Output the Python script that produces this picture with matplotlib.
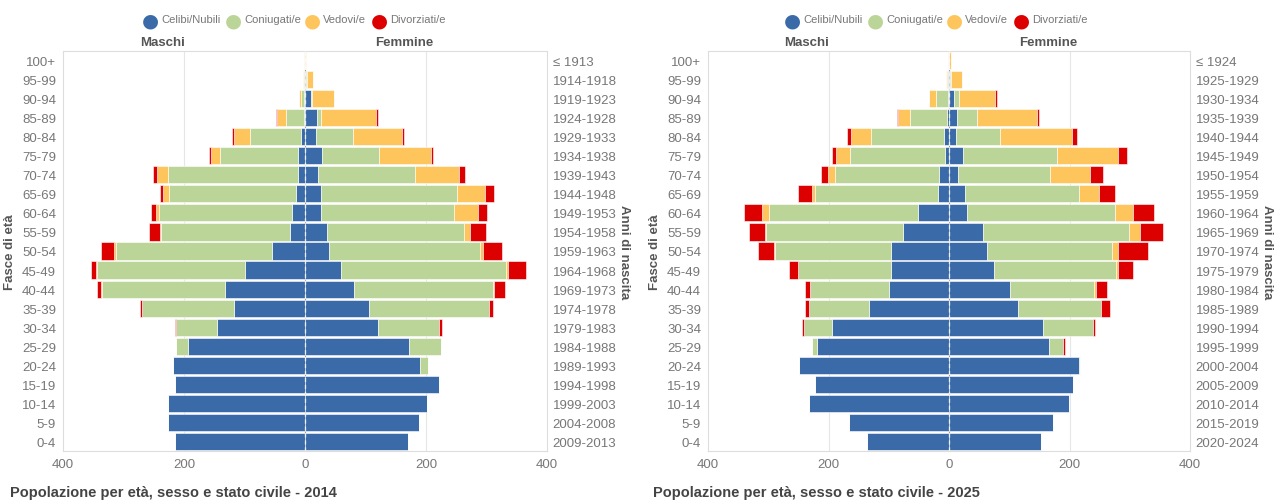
import numpy as np
import matplotlib.pyplot as plt

ages = ['100+', '95-99', '90-94', '85-89', '80-84', '75-79', '70-74', '65-69',
        '60-64', '55-59', '50-54', '45-49', '40-44', '35-39', '30-34', '25-29',
        '20-24', '15-19', '10-14', '5-9', '0-4']

years_2014 = ['≤ 1913', '1914-1918', '1919-1923', '1924-1928', '1929-1933',
              '1934-1938', '1939-1943', '1944-1948', '1949-1953', '1954-1958',
              '1959-1963', '1964-1968', '1969-1973', '1974-1978', '1979-1983',
              '1984-1988', '1989-1993', '1994-1998', '1999-2003', '2004-2008',
              '2009-2013']
years_2025 = ['≤ 1924', '1925-1929', '1930-1934', '1935-1939', '1940-1944',
              '1945-1949', '1950-1954', '1955-1959', '1960-1964', '1965-1969',
              '1970-1974', '1975-1979', '1980-1984', '1985-1989', '1990-1994',
              '1995-1999', '2000-2004', '2005-2009', '2010-2014', '2015-2019',
              '2020-2024']

# 2014 - maschi
m14_cel = [0, 0.5, 2, 2, 7, 12, 11, 15, 21, 24, 55, 99, 132, 117, 145, 194, 218, 215, 227, 226, 215]
m14_con = [0, 1, 4, 30, 84, 129, 215, 210, 220, 214, 257, 245, 203, 152, 69, 19, 1, 0, 0, 0, 0]
m14_ved = [0, 1, 4, 15, 27, 14, 18, 9, 5, 1, 4, 2, 2, 0.5, 0, 0, 0, 0, 0, 0, 0]
m14_div = [0, 0, 0, 1.5, 2, 4, 8, 5.5, 9, 19, 22, 7, 6, 4, 1, 0.5, 0, 0, 0, 0, 0]
# 2014 - femmine
f14_cel = [0, 2, 10, 20, 19, 28, 22, 26, 26, 37, 39, 59, 81, 106, 120, 172, 190, 221, 201, 189, 171]
f14_con = [0, 1, 1, 7, 61, 95, 160, 225, 220, 226, 251, 274, 230, 198, 102, 53, 13, 0, 0, 0, 0]
f14_ved = [1, 10, 37, 91, 81, 85, 73, 47, 40, 10, 4, 3, 1, 0, 0, 0, 0, 0, 0, 0, 0]
f14_div = [0, 0, 0, 2, 3, 4, 10, 14, 15, 26, 31, 29, 18, 7, 4, 0, 0, 0, 0, 0, 0]

# 2025 - maschi
m25_cel = [0, 1, 1, 4, 8, 7, 16, 19, 51, 76, 96, 97, 99, 133, 195, 219, 249, 222, 233, 166, 136]
m25_con = [0, 2, 21, 60, 122, 158, 174, 203, 248, 228, 192, 153, 132, 100, 45, 8, 0, 0, 0, 0, 0]
m25_ved = [0, 2, 12, 21, 33, 23, 11, 5, 11, 2, 3, 1, 0, 0, 0, 1, 0, 0, 0, 0, 0]
m25_div = [0, 0, 0, 2, 6, 5.5, 11.5, 23, 30, 26, 26, 14, 8, 5.5, 4, 0, 0, 0, 0, 0, 0]
# 2025 - femmine
f25_cel = [0.5, 2, 9, 13, 11, 24, 15, 26, 30, 56, 63, 74, 101, 115, 156, 166, 215, 205, 199, 173, 152]
f25_con = [0, 2, 7, 33, 74, 156, 153, 189, 245, 242, 208, 203, 140, 137, 83, 24, 3, 0, 0, 0, 0]
f25_ved = [2.5, 18, 60, 100, 119, 100, 66, 34, 31, 19, 10, 3, 3, 0, 0, 0, 0, 0, 0, 0, 0]
f25_div = [0, 0, 3, 4, 8, 16, 22, 27, 35, 38, 49, 26, 17.5, 15, 4, 3, 0, 0, 0, 0, 0]

labels = ['Celibi/Nubili', 'Coniugati/e', 'Vedovi/e', 'Divorziati/e']
colors = ['#3a6aa8', '#bad597', '#fdc55b', '#dd0000']
text_grey = '#777777'

plt.rcParams['font.family'] = ['Liberation Sans', 'DejaVu Sans']

fig = plt.figure(figsize=(12.77, 5.02), dpi=100)


def draw_pyramid(ax, males, females, years, title, x0):
    y = np.arange(len(ages))
    left = np.zeros(len(ages))
    for vals, c in zip(males, colors):
        vals = np.array(vals, dtype=float)
        ax.barh(y, -vals, left=-left, height=0.9, color=c, edgecolor='white',
                linewidth=0.4, zorder=2)
        left += vals
    left = np.zeros(len(ages))
    for vals, c in zip(females, colors):
        vals = np.array(vals, dtype=float)
        ax.barh(y, vals, left=left, height=0.9, color=c, edgecolor='white',
                linewidth=0.4, zorder=2)
        left += vals

    ax.set_xlim(-400, 400)
    ax.set_ylim(len(ages) - 0.5, -0.5)
    ax.set_xticks([-400, -200, 0, 200, 400])
    ax.set_xticklabels(['400', '200', '0', '200', '400'])
    ax.set_yticks(y)
    ax.set_yticklabels(ages)
    for v in (-200, 200):
        ax.axvline(v, color='#e6e6e6', lw=0.8, zorder=1)
    ax.axvline(0, color='#999999', lw=0.8, zorder=1)
    ax.axvline(0, color='white', lw=1.0, ls=(0, (3, 2)), alpha=0.7, zorder=3)
    ax.tick_params(axis='both', length=0, labelsize=9.5, labelcolor=text_grey, pad=5)
    for s in ax.spines.values():
        s.set_color('#dddddd')
        s.set_linewidth(0.8)

    ax.set_ylabel('Fasce di età', fontsize=9.5, fontweight='bold', color='#555555', labelpad=4)

    ax2 = ax.twinx()
    ax2.set_ylim(ax.get_ylim())
    ax2.set_yticks(y)
    ax2.set_yticklabels(years)
    ax2.tick_params(axis='y', length=0, labelsize=9.5, labelcolor=text_grey, pad=4)
    for s in ax2.spines.values():
        s.set_visible(False)
    ax2.set_ylabel('Anni di nascita', fontsize=9.5, fontweight='bold', color='#555555',
                   rotation=270, labelpad=10)

    ax.text(0.205, 1.008, 'Maschi', transform=ax.transAxes, ha='center', va='bottom',
            fontsize=9.5, fontweight='bold', color='#555555')
    ax.text(0.705, 1.008, 'Femmine', transform=ax.transAxes, ha='center', va='bottom',
            fontsize=9.5, fontweight='bold', color='#555555')

    fig.text(x0, 0.003, title, ha='left', va='bottom', fontsize=10.5,
             fontweight='bold', color='#444444')

    # legenda
    lx = [x0 + 0.1095, x0 + 0.1745, x0 + 0.2363, x0 + 0.2888]
    for xx, lab, c in zip(lx, labels, colors):
        fig.text(xx, 0.958, '●', ha='center', va='center', fontsize=14, color=c,
                 family=['DejaVu Sans'])
        fig.text(xx + 0.0086, 0.96, lab, ha='left', va='center', fontsize=8, color=text_grey)


ax_a = fig.add_axes([63 / 1277, 50 / 502, 484 / 1277, 400 / 502])
draw_pyramid(ax_a, [m14_cel, m14_con, m14_ved, m14_div],
             [f14_cel, f14_con, f14_ved, f14_div], years_2014,
             'Popolazione per età, sesso e stato civile - 2014', 0.008)

ax_b = fig.add_axes([708 / 1277, 50 / 502, 482 / 1277, 400 / 502])
draw_pyramid(ax_b, [m25_cel, m25_con, m25_ved, m25_div],
             [f25_cel, f25_con, f25_ved, f25_div], years_2025,
             'Popolazione per età, sesso e stato civile - 2025', 0.511)

fig.savefig('out.png', dpi=100)
